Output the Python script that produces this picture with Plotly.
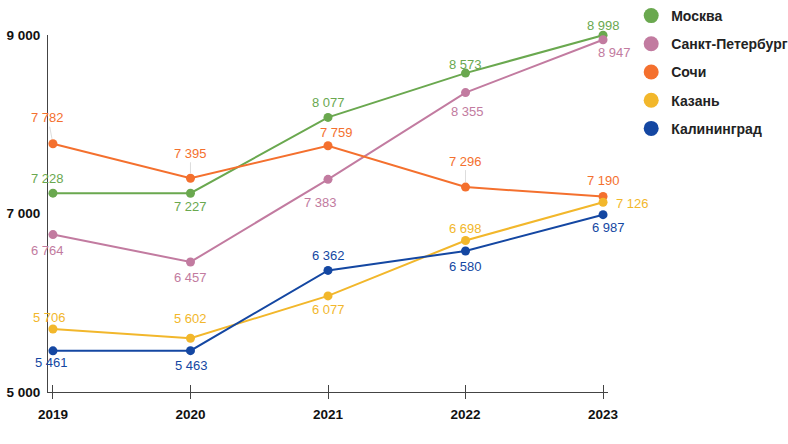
import plotly.graph_objects as go

years = ["2019", "2020", "2021", "2022", "2023"]
series_names = ["Москва", "Санкт-Петербург", "Сочи", "Казань", "Калининград"]
moscow = [7228, 7227, 8077, 8573, 8998]
spb = [6764, 6457, 7383, 8355, 8947]
sochi = [7782, 7395, 7759, 7296, 7190]
kazan = [5706, 5602, 6077, 6698, 7126]
kaliningrad = [5461, 5463, 6362, 6580, 6987]
y_tickvals = [5000, 7000, 9000]
y_ticktext = ["5 000", "7 000", "9 000"]

colors = ["#6aa84f", "#c27ba0", "#f4702e", "#f2b72b", "#1447a2"]
values = [moscow, spb, sochi, kazan, kaliningrad]

# label offsets in pixels (dx, dy; dy positive = downward), and whether a leader line is drawn
offsets = [
    [(-5, -15, False), (0, 13, False), (0, -15, False), (0, -9, False), (0, -10, False)],
    [(-5, 16, False), (0, 16, False), (-8, 23, False), (2, 19, False), (11, 13, False)],
    [(-5, -26, True), (0, -25, True), (8, -13, False), (0, -26, True), (0, -16, False)],
    [(-3, -11, False), (0, -20, False), (0, 14, False), (0, -12, False), (29, 1, False)],
    [(-1, 12, False), (1, 15, False), (0, -15, False), (0, 16, False), (5, 13, False)],
]

def fmt(v):
    return f"{v:,}".replace(",", " ")

FONT = "Liberation Sans, Arial"
idx = list(range(len(years)))

fig = go.Figure()
for name, vals, col in zip(series_names, values, colors):
    fig.add_trace(go.Scatter(
        x=years, y=vals, mode="lines+markers", name=name, showlegend=False,
        line=dict(color=col, width=2), marker=dict(color=col, size=9),
        cliponaxis=False, hoverinfo="skip"))
for name, col in zip(series_names, colors):
    fig.add_trace(go.Scatter(
        x=[None], y=[None], mode="markers", name=name, legendgroup=name,
        marker=dict(color=col, size=15), showlegend=True))
# invisible helper trace so the overlay axis (inner half of the crossing ticks) is drawn
fig.add_trace(go.Scatter(x=idx, y=[None] * len(idx), xaxis="x2", mode="markers",
                         showlegend=False, hoverinfo="skip"))

for vals, col, offs in zip(values, colors, offsets):
    for xi, (yv, (dx, dy, lead)) in enumerate(zip(vals, offs)):
        if lead:
            fig.add_annotation(x=xi, y=yv, xref="x", yref="y", text=fmt(yv),
                               font=dict(family=FONT, size=13, color=col),
                               showarrow=True, ax=dx, ay=dy, arrowhead=0, arrowwidth=1,
                               arrowcolor="#dddddd", standoff=5)
        else:
            fig.add_annotation(x=xi, y=yv, xref="x", yref="y", text=fmt(yv),
                               font=dict(family=FONT, size=13, color=col),
                               showarrow=False, xshift=dx, yshift=-dy)

xr = [-0.036, 4.036]
fig.update_layout(
    width=788, height=444,
    margin=dict(l=48, r=180, t=35, b=52),
    paper_bgcolor="white", plot_bgcolor="white",
    font=dict(family=FONT, size=12, color="#111"),
    showlegend=True,
    legend=dict(xref="container", yref="container", x=0.801, y=1.0,
                xanchor="left", yanchor="top",
                font=dict(family=FONT, size=14, color="#222", weight="bold"),
                traceorder="grouped", tracegroupgap=7, itemsizing="trace",
                bgcolor="rgba(0,0,0,0)"),
    xaxis=dict(type="category", range=xr, showline=True, linecolor="#444", linewidth=1.2,
               ticks="outside", ticklen=6, tickcolor="#444", tickwidth=1,
               showgrid=False, zeroline=False, ticklabelstandoff=4, automargin=False,
               tickfont=dict(family=FONT, size=13.5, color="#111", weight="bold")),
    xaxis2=dict(overlaying="x", anchor="y", range=xr, type="linear",
                tickvals=idx, ticks="inside", ticklen=7, tickcolor="#444", tickwidth=1,
                showticklabels=False, showgrid=False, zeroline=False, showline=False,
                automargin=False),
    yaxis=dict(range=[5000, 9000], tickvals=y_tickvals, ticktext=y_ticktext,
               showline=True, linecolor="#444", linewidth=1.2, showgrid=False,
               zeroline=False, ticks="", ticklabelstandoff=4, automargin=False,
               tickfont=dict(family=FONT, size=13.5, color="#111", weight="bold")),
)

fig.write_html("out.html")
